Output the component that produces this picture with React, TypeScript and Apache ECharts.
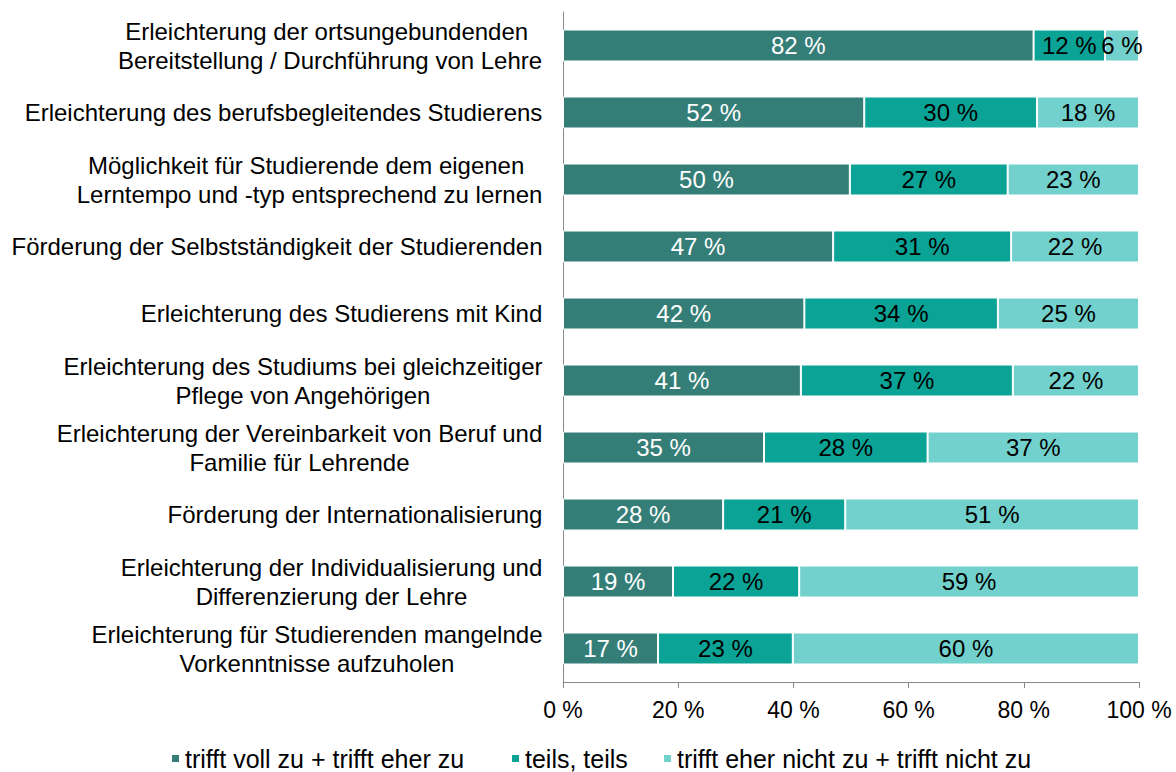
import React, { useEffect, useRef } from "react";
import * as echarts from "echarts";

const categories: string[] = [
  "Erleichterung der ortsungebundenden \nBereitstellung / Durchführung von Lehre",
  "Erleichterung des berufsbegleitendes Studierens",
  "Möglichkeit für Studierende dem eigenen \nLerntempo und -typ entsprechend zu lernen",
  "Förderung der Selbstständigkeit der Studierenden",
  "Erleichterung des Studierens mit Kind",
  "Erleichterung des Studiums bei gleichzeitiger\nPflege von Angehörigen",
  "Erleichterung der Vereinbarkeit von Beruf und\nFamilie für Lehrende",
  "Förderung der Internationalisierung",
  "Erleichterung der Individualisierung und\nDifferenzierung der Lehre",
  "Erleichterung für Studierenden mangelnde\nVorkenntnisse aufzuholen",
];

const seriesNames: string[] = [
  "trifft voll zu + trifft eher zu",
  "teils, teils",
  "trifft eher nicht zu + trifft nicht zu",
];

const agree: number[] = [81.7, 52.3, 49.8, 46.9, 41.9, 41.3, 34.9, 27.8, 19.1, 16.5];
const partly: number[] = [12.4, 30.0, 27.4, 30.9, 33.6, 36.8, 28.4, 21.2, 21.9, 23.4];
const disagree: number[] = [5.9, 17.7, 22.8, 22.2, 24.5, 21.9, 36.7, 51.0, 59.0, 60.1];

const xTicks: number[] = [0, 20, 40, 60, 80, 100];

const colors = ["#357E78", "#0AA396", "#72D1CC"];
const labelColors = ["#FFFFFF", "#000000", "#000000"];
const FONT = '"Liberation Sans", Arial, sans-serif';
const CAT_FS = 24;
const TICK_FS = 23;
const BAR_FS = 24;
const LEG_FS = 25;
const legendLefts = [170, 510, 662];

export default function App() {
  const ref = useRef<HTMLDivElement>(null);
  useEffect(() => {
    if (!ref.current) return;
    const chart = echarts.init(ref.current, undefined, { renderer: "svg" });

    const canvas = document.createElement("canvas");
    const ctx = canvas.getContext("2d")!;
    ctx.font = `${CAT_FS}px ${FONT}`;
    const rich: Record<string, any> = {};
    categories.forEach((c, i) => {
      const w = Math.max(...c.split("\n").map((l) => ctx.measureText(l).width));
      rich["l" + i] = {
        width: Math.ceil(w) + 1,
        align: "center",
        fontSize: CAT_FS,
        fontFamily: FONT,
        color: "#000",
        lineHeight: 29,
      };
    });

    const data = [agree, partly, disagree];
    chart.setOption({
      animation: false,
      textStyle: { fontFamily: FONT },
      grid: { left: 563, right: 37, top: 12, bottom: 90, containLabel: false },
      legend: seriesNames.map((name, i) => ({
        top: 746,
        left: legendLefts[i],
        itemWidth: 9,
        itemHeight: 9,
        icon: "rect",
        padding: 0,
        textStyle: { fontSize: LEG_FS, color: "#000", fontFamily: FONT },
        data: [name],
      })),
      xAxis: {
        type: "value",
        min: 0,
        max: 100,
        interval: 20,
        axisLine: { show: true, lineStyle: { color: "#898989", width: 1 } },
        axisTick: { show: true, length: 6, lineStyle: { color: "#898989" } },
        splitLine: { show: false },
        axisLabel: {
          fontSize: TICK_FS,
          color: "#000",
          margin: 16,
          fontFamily: FONT,
          formatter: (v: number) => (xTicks.includes(v) ? `${v} %` : ""),
        },
      },
      yAxis: {
        type: "category",
        inverse: true,
        data: categories,
        axisLine: { show: true, lineStyle: { color: "#898989", width: 1 } },
        axisTick: { show: false },
        axisLabel: {
          margin: 20,
          formatter: (value: string, idx: number) =>
            value
              .split("\n")
              .map((l) => `{l${idx}|${l}}`)
              .join("\n"),
          rich,
        },
      },
      series: seriesNames.map((name, s) => ({
        name,
        type: "bar",
        stack: "total",
        barWidth: 32,
        data: data[s],
        itemStyle: { color: colors[s], borderColor: "#fff", borderWidth: 1 },
        label: {
          show: true,
          position: "inside",
          fontSize: BAR_FS,
          fontFamily: FONT,
          color: labelColors[s],
          formatter: (p: any) => `${Math.round(p.value)} %`,
        },
      })),
    });
    return () => chart.dispose();
  }, []);
  return (
    <div
      ref={ref}
      style={{ position: "absolute", left: 0, top: 0, width: 1176, height: 772 }}
    />
  );
}
